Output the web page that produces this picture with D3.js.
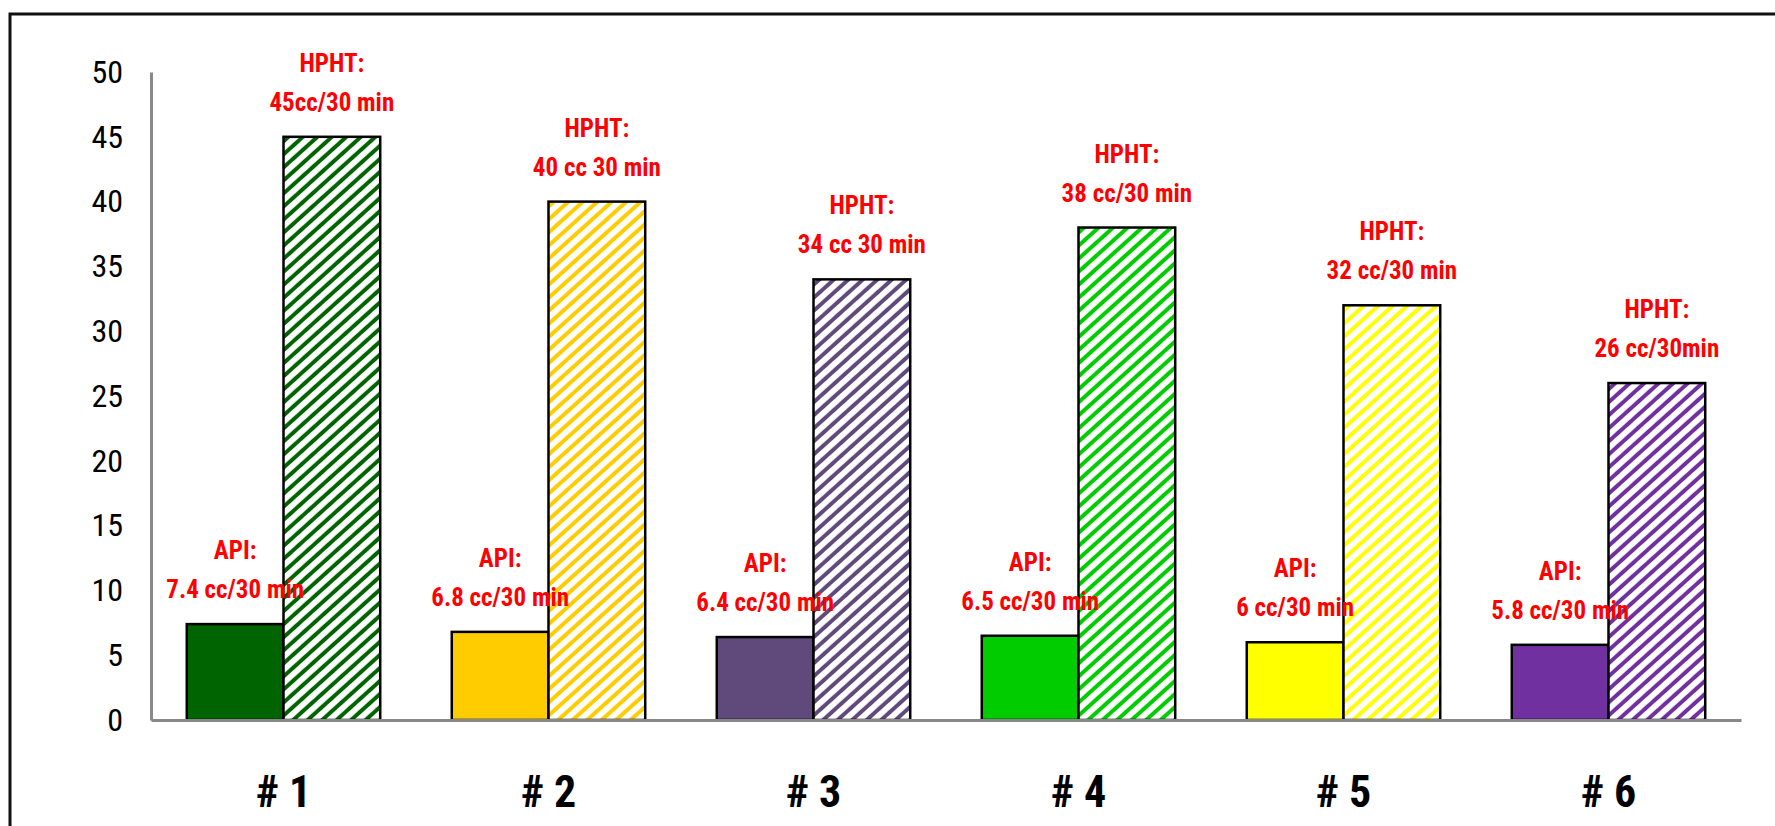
<!DOCTYPE html>
<html>
<head>
<meta charset="utf-8">
<script src="https://cdn.jsdelivr.net/npm/d3@7"></script>
<style>
	body { margin: 0; background: #fff; }
	svg { display: block; }
</style>
</head>
<body>
<svg id="chart" width="1775" height="826"></svg>
<script>
// samples and filtrate loss values (cc/30 min)
var categories = ["# 1", "# 2", "# 3", "# 4", "# 5", "# 6"];
var series = ["API", "HPHT"];
var api_values = [7.4, 6.8, 6.4, 6.5, 6, 5.8];
var hpht_values = [45, 40, 34, 38, 32, 26];
var api_labels = ["7.4 cc/30 min", "6.8 cc/30 min", "6.4 cc/30 min", "6.5 cc/30 min", "6 cc/30 min", "5.8 cc/30 min"];
var hpht_labels = ["45cc/30 min", "40 cc 30 min", "34 cc 30 min", "38 cc/30 min", "32 cc/30 min", "26 cc/30min"];
var bar_colors = ["#006400", "#FFCC00", "#604A7B", "#00CC00", "#FFFF00", "#7030A0"];
var y_ticks = [0, 5, 10, 15, 20, 25, 30, 35, 40, 45, 50];

var svg = d3.select("#chart");
var label_font = "'Liberation Sans Narrow', 'Roboto Condensed', 'Liberation Sans', sans-serif";

// outer frame, right and bottom edges run off the picture
svg.append("rect")
	.attr("x", 10).attr("y", 14)
	.attr("width", 1800).attr("height", 860)
	.attr("fill", "none")
	.attr("stroke", "#111")
	.attr("stroke-width", 3);

var x = d3.scaleBand()
	.domain(categories)
	.range([151, 1741])
	.paddingInner(0.27)
	.paddingOuter(0.135);

var x_inner = d3.scaleBand()
	.domain(series)
	.range([0, x.bandwidth()]);

var y = d3.scaleLinear()
	.domain([0, 50])
	.range([720, 72]);

// hatch patterns, one per colour
var defs = svg.append("defs");
bar_colors.forEach(function(color, i){
	var pat = defs.append("pattern")
		.attr("id", "hatch_" + i)
		.attr("patternUnits", "userSpaceOnUse")
		.attr("width", 20)
		.attr("height", 9.7)
		.attr("patternTransform", "rotate(-42)");
	pat.append("rect")
		.attr("width", 20).attr("height", 9.7)
		.attr("fill", "#fff");
	pat.append("rect")
		.attr("y", 2.8)
		.attr("width", 20).attr("height", 4)
		.attr("fill", color);
});

var rows = categories.map(function(c, i){
	return {cat: c, i: i, api: api_values[i], hpht: hpht_values[i]};
});

var groups = svg.selectAll(".group")
	.data(rows)
	.enter().append("g")
	.attr("class", "group")
	.attr("transform", function(d){ return "translate(" + x(d.cat) + ",0)"; });

groups.append("rect")
	.attr("x", x_inner("API"))
	.attr("y", function(d){ return y(d.api); })
	.attr("width", x_inner.bandwidth())
	.attr("height", function(d){ return y(0) - y(d.api); })
	.attr("fill", function(d){ return bar_colors[d.i]; })
	.attr("stroke", "#000")
	.attr("stroke-width", 2.5);

groups.append("rect")
	.attr("x", x_inner("HPHT"))
	.attr("y", function(d){ return y(d.hpht); })
	.attr("width", x_inner.bandwidth())
	.attr("height", function(d){ return y(0) - y(d.hpht); })
	.attr("fill", function(d){ return "url(#hatch_" + d.i + ")"; })
	.attr("stroke", "#000")
	.attr("stroke-width", 2.5);

// axes
var y_axis = svg.append("g")
	.attr("transform", "translate(151,0)")
	.call(d3.axisLeft(y).tickValues(y_ticks).tickSize(0).tickPadding(28));

var x_axis = svg.append("g")
	.attr("transform", "translate(0,720)")
	.call(d3.axisBottom(x).tickSize(0).tickPadding(56));

[y_axis, x_axis].forEach(function(ax){
	ax.select(".domain")
		.attr("stroke", "#888")
		.attr("stroke-width", 3);
});

y_axis.selectAll("text")
	.attr("fill", "#000")
	.style("font-family", label_font)
	.style("font-size", "32px");

x_axis.selectAll("text")
	.attr("fill", "#000")
	.style("font-family", label_font)
	.style("font-weight", "bold")
	.style("font-size", "44px");

// red value labels over the bars
function add_label(sel, key, head, texts){
	var t = sel.append("text")
		.attr("text-anchor", "middle")
		.attr("fill", "#FF0000")
		.style("font-family", label_font)
		.style("font-weight", "bold")
		.style("font-size", "25px");
	t.append("tspan")
		.attr("x", x_inner(key) + x_inner.bandwidth() / 2)
		.attr("y", function(d){ return y(d[key.toLowerCase()]) - 65; })
		.text(head);
	t.append("tspan")
		.attr("x", x_inner(key) + x_inner.bandwidth() / 2)
		.attr("y", function(d){ return y(d[key.toLowerCase()]) - 26; })
		.text(function(d){ return texts[d.i]; });
}

add_label(groups, "API", "API:", api_labels);
add_label(groups, "HPHT", "HPHT:", hpht_labels);
</script>
</body>
</html>
